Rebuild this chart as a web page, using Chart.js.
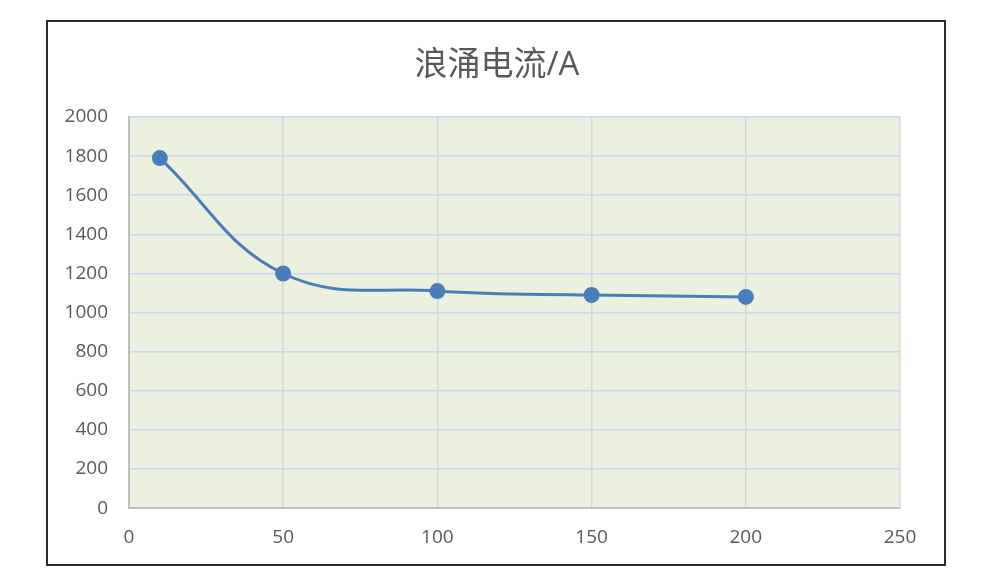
<!DOCTYPE html>
<html>
<head>
<meta charset="utf-8">
<script src="https://cdn.jsdelivr.net/npm/chart.js@4/dist/chart.umd.min.js"></script>
<style>
  html, body { margin: 0; padding: 0; background: #fff; }
  #wrap { width: 996px; height: 587px; position: relative; }
</style>
</head>
<body>
<div id="wrap"><canvas id="chart"></canvas></div>
<script>
const chartTitle = '浪涌电流/A';
const xValues = [10, 50, 100, 150, 200];
const surgeCurrent = [1790, 1200, 1110, 1090, 1080];

const textColor = '#595959';
const fontFamily = "'Open Sans', 'Noto Sans CJK SC', sans-serif";

// Note: frame, plot background and title drawn around the chart
const frame = {
    id: 'frame',
    beforeDraw(chart) {
        const { ctx, chartArea } = chart;
        ctx.save();
        ctx.fillStyle = '#EBF1DE';
        ctx.fillRect(chartArea.left, chartArea.top, chartArea.right - chartArea.left, chartArea.bottom - chartArea.top);
        ctx.strokeStyle = '#2b2b2b';
        ctx.lineWidth = 2;
        ctx.strokeRect(47, 21, 898, 544);
        ctx.fillStyle = textColor;
        ctx.font = `33px ${fontFamily}`;
        ctx.textAlign = 'center';
        ctx.textBaseline = 'middle';
        ctx.fillText(chartTitle, 497, 66);
        ctx.restore();
    }
};

const ctx = document.getElementById('chart').getContext('2d');
new Chart(ctx, {
    type: 'line',
    data: {
        datasets: [{
            label: chartTitle,
            data: xValues.map((x, i) => ({ x: x, y: surgeCurrent[i] })),
            borderColor: '#4A7EBB',
            backgroundColor: '#4A7EBB',
            borderWidth: 3,
            pointRadius: 6.5,
            pointHoverRadius: 6.5,
            tension: 0.4,
            fill: false,
        }]
    },
    options: {
        responsive: true,
        maintainAspectRatio: false,
        animation: false,
        layout: {
            padding: { left: 50, right: 96, top: 117, bottom: 20 }
        },
        plugins: {
            legend: { display: false },
            title: { display: false },
            tooltip: { enabled: false },
        },
        scales: {
            x: {
                type: 'linear',
                min: 0,
                max: 250,
                ticks: {
                    stepSize: 50,
                    padding: 18,
                    color: textColor,
                    font: { family: fontFamily, size: 19 },
                    callback: (v) => String(v),
                },
                grid: {
                    color: '#D3D7DA',
                    lineWidth: 1.5,
                    drawTicks: false,
                },
                border: { display: true, color: '#BFBFBF', width: 2 },
            },
            y: {
                min: 0,
                max: 2000,
                ticks: {
                    stepSize: 200,
                    padding: 21,
                    color: textColor,
                    font: { family: fontFamily, size: 19 },
                    callback: (v) => String(v),
                },
                grid: {
                    color: (c) => c.tick && c.tick.value === 0 ? '#BFBFBF' : '#C9D8EC',
                    lineWidth: 1.5,
                    drawTicks: false,
                },
                border: { display: true, color: '#BFBFBF', width: 2 },
                afterFit(scale) { scale.width = 79; },
            }
        }
    },
    plugins: [frame]
});
</script>
</body>
</html>
